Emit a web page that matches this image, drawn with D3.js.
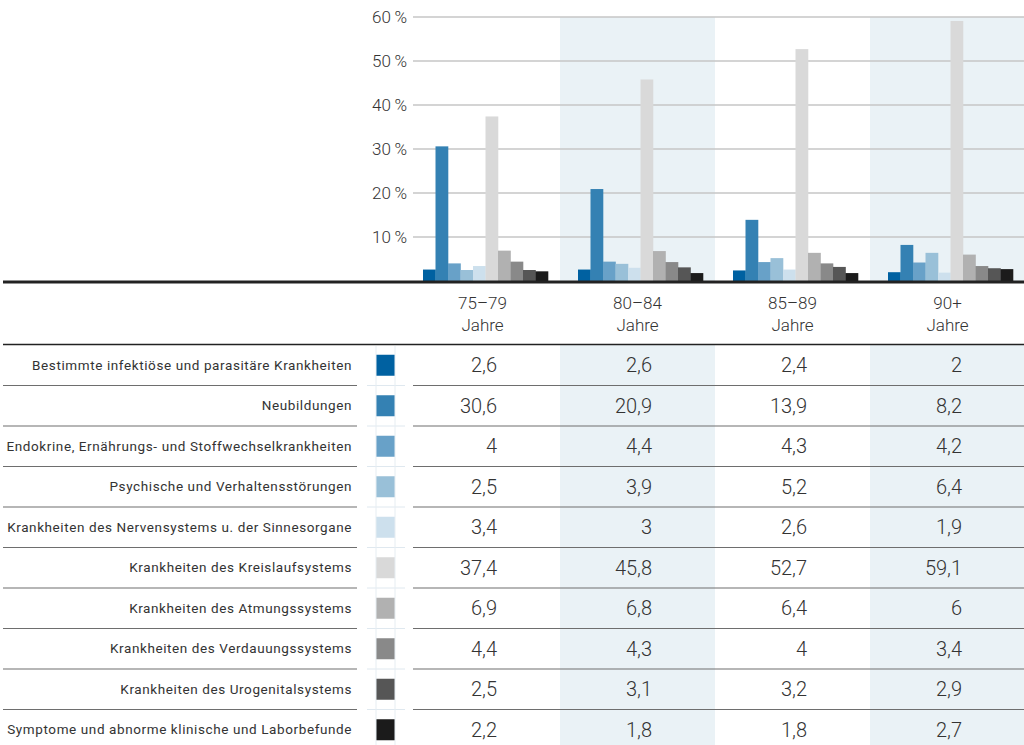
<!DOCTYPE html>
<html>
<head>
<meta charset="utf-8">
<script src="https://cdn.jsdelivr.net/npm/d3@7"></script>
<style>
body{
	margin:0;
	background-color: white;
}
svg text{
	font-family: Roboto, "Noto Sans", sans-serif;
	fill:#333;
}
</style>
</head>
<body>
<div id="chart"></div>
<script>
var ageGroups = ['75\u201379', '80\u201384', '85\u201389', '90+'];
var categories = [
	'Bestimmte infektiöse und parasitäre Krankheiten',
	'Neubildungen',
	'Endokrine, Ernährungs- und Stoffwechselkrankheiten',
	'Psychische und Verhaltensstörungen',
	'Krankheiten des Nervensystems u. der Sinnesorgane',
	'Krankheiten des Kreislaufsystems',
	'Krankheiten des Atmungssystems',
	'Krankheiten des Verdauungssystems',
	'Krankheiten des Urogenitalsystems',
	'Symptome und abnorme klinische und Laborbefunde'
];
var infektioes   = [2.6, 2.6, 2.4, 2];
var neubildungen = [30.6, 20.9, 13.9, 8.2];
var endokrine    = [4, 4.4, 4.3, 4.2];
var psychische   = [2.5, 3.9, 5.2, 6.4];
var nerven       = [3.4, 3, 2.6, 1.9];
var kreislauf    = [37.4, 45.8, 52.7, 59.1];
var atmung       = [6.9, 6.8, 6.4, 6];
var verdauung    = [4.4, 4.3, 4, 3.4];
var urogenital   = [2.5, 3.1, 3.2, 2.9];
var symptome     = [2.2, 1.8, 1.8, 2.7];
var yTicks = [10, 20, 30, 40, 50, 60];

var values = [infektioes, neubildungen, endokrine, psychische, nerven,
	kreislauf, atmung, verdauung, urogenital, symptome];
var colors = ['#0061a1', '#3481b3', '#68a1c8', '#99c0d8', '#cde0ed',
	'#d9d9d9', '#b1b1b1', '#898989', '#565656', '#1b1b1b'];

var width = 1024, height = 745;
var svg = d3.select('#chart').append('svg')
	.attr('width', width)
	.attr('height', height);

var x = d3.scaleBand().domain(ageGroups).range([405, 1025]);
var xInner = d3.scaleBand().domain(d3.range(categories.length)).range([18, 143]);
var y = d3.scaleLinear().domain([0, 60]).range([281, 17]);
var row = d3.scaleBand().domain(d3.range(categories.length)).range([345, 750]);

// shaded columns
ageGroups.forEach(function(g, i){
	if(i % 2 == 1){
		svg.append('rect').attr('x', x(g)).attr('y', y(60))
			.attr('width', x.bandwidth()).attr('height', y(0) - y(60))
			.attr('fill', '#eaf2f6');
		svg.append('rect').attr('x', x(g)).attr('y', row.range()[0])
			.attr('width', x.bandwidth()).attr('height', height - row.range()[0])
			.attr('fill', '#eaf2f6');
	}
});

// grid + y labels
svg.selectAll('.grid').data(yTicks).enter().append('line')
	.attr('x1', 413).attr('x2', width)
	.attr('y1', function(d){ return y(d); })
	.attr('y2', function(d){ return y(d); })
	.attr('stroke', '#c6c6c6').attr('stroke-width', 1.5);
svg.selectAll('.ylab').data(yTicks).enter().append('text')
	.attr('x', 407)
	.attr('y', function(d){ return y(d); })
	.attr('dy', '0.35em')
	.attr('text-anchor', 'end')
	.style('font-size', '17px')
	.style('font-weight', 300)
	.text(function(d){ return d + '\u2009%'; });

// bars
var groups = svg.selectAll('.grp').data(ageGroups).enter().append('g')
	.attr('transform', function(d){ return 'translate(' + x(d) + ',0)'; });
groups.selectAll('rect').data(function(d, gi){
		return values.map(function(v, ci){ return {ci: ci, v: v[gi]}; });
	}).enter().append('rect')
	.attr('x', function(d){ return xInner(d.ci); })
	.attr('width', xInner.bandwidth() + 0.3)
	.attr('y', function(d){ return y(d.v); })
	.attr('height', function(d){ return y(0) - y(d.v); })
	.attr('fill', function(d){ return colors[d.ci]; });

// baseline
svg.append('line').attr('x1', 3).attr('x2', width)
	.attr('y1', y(0) + 1).attr('y2', y(0) + 1)
	.attr('stroke', '#222').attr('stroke-width', 3);

// header
ageGroups.forEach(function(g){
	var cx = x(g) + x.bandwidth() / 2;
	svg.append('text').attr('x', cx).attr('y', 309).attr('text-anchor', 'middle')
		.style('font-size', '17px').style('font-weight', 300).text(g);
	svg.append('text').attr('x', cx).attr('y', 331).attr('text-anchor', 'middle')
		.style('font-size', '17px').style('font-weight', 300).text('Jahre');
});
svg.append('line').attr('x1', 3).attr('x2', width)
	.attr('y1', 344.5).attr('y2', 344.5)
	.attr('stroke', '#222').attr('stroke-width', 1.5);

// table rows
var rows = svg.selectAll('.row').data(categories).enter().append('g')
	.attr('transform', function(d, i){ return 'translate(0,' + row(i) + ')'; });
var rh = row.bandwidth();

rows.append('text')
	.attr('x', 352).attr('y', rh / 2).attr('dy', '0.35em')
	.attr('text-anchor', 'end')
	.style('font-size', '13.5px')
	.style('letter-spacing', '0.6px')
	.text(function(d){ return d; });

rows.append('rect')
	.attr('x', 376).attr('y', rh / 2 - 10.5)
	.attr('width', 19).attr('height', 21)
	.attr('fill', function(d, i){ return colors[i]; });

// faint legend column lines
rows.filter(function(d, i){ return i < categories.length - 1; })
	.append('line').attr('x1', 367).attr('x2', 405)
	.attr('y1', rh).attr('y2', rh)
	.attr('stroke', '#dfe8ef');
svg.selectAll('.vl').data([376, 395]).enter().append('line')
	.attr('x1', function(d){ return d; }).attr('x2', function(d){ return d; })
	.attr('y1', 346).attr('y2', height)
	.attr('stroke', '#e6edf2');

// separators
var seps = rows.filter(function(d, i){ return i < categories.length - 1; });
seps.append('line').attr('x1', 3).attr('x2', 357)
	.attr('y1', rh).attr('y2', rh)
	.attr('stroke', '#6e6e6e').attr('stroke-width', 1.2);
seps.append('line').attr('x1', 413).attr('x2', width)
	.attr('y1', rh).attr('y2', rh)
	.attr('stroke', '#6e6e6e').attr('stroke-width', 1.2);

// values
rows.each(function(d, i){
	var r = d3.select(this);
	ageGroups.forEach(function(g, gi){
		r.append('text')
			.attr('x', x(g) + 92).attr('y', rh / 2).attr('dy', '0.36em')
			.attr('text-anchor', 'end')
			.style('font-size', '20px')
			.style('font-weight', 300)
			.text(String(values[i][gi]).replace('.', ','));
	});
});
</script>
</body>
</html>
